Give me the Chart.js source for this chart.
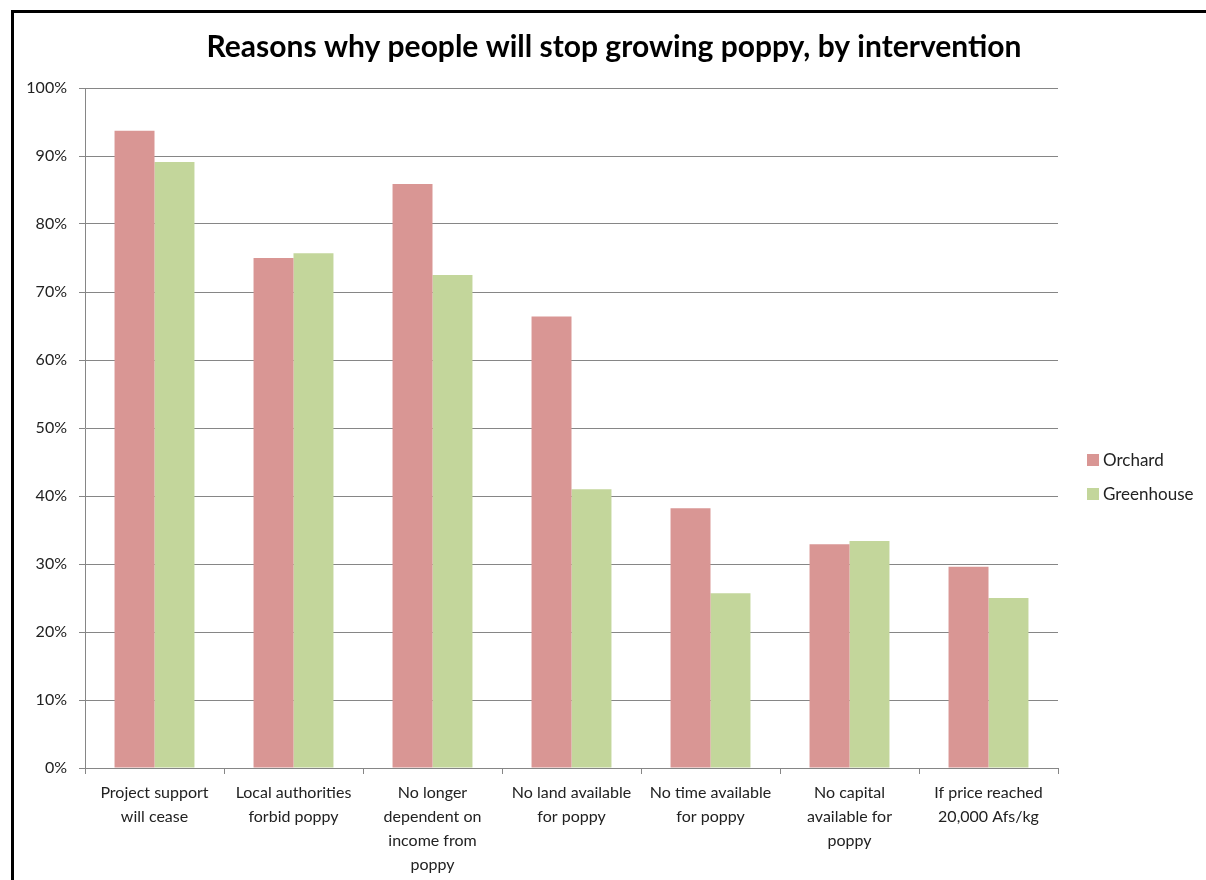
<!DOCTYPE html>
<html>
<head>
<meta charset="utf-8">
<script src="https://cdn.jsdelivr.net/npm/chart.js@4/dist/chart.umd.min.js"></script>
<style>
  html, body { margin: 0; padding: 0; background: #fff; }
  #wrap { position: relative; width: 1206px; height: 880px; overflow: hidden; }
  #frame {
    position: absolute; left: 11px; top: 10px; right: -5px; bottom: -5px;
    border-left: 3px solid #000; border-top: 3px solid #000;
    pointer-events: none;
  }
  canvas { position: absolute; left: 0; top: 0; }
</style>
</head>
<body>
<div id="wrap">
  <canvas id="reasonsChart" width="1206" height="880"></canvas>
  <div id="frame"></div>
</div>
<script>
const chartTitle = 'Reasons why people will stop growing poppy, by intervention';

const categories = [
  ['Project support', 'will cease'],
  ['Local authorities', 'forbid poppy'],
  ['No longer', 'dependent on', 'income from', 'poppy'],
  ['No land available', 'for poppy'],
  ['No time available', 'for poppy'],
  ['No capital', 'available for', 'poppy'],
  ['If price reached', '20,000 Afs/kg']
];

const orchard = [93.7, 75.0, 85.9, 66.4, 38.2, 32.9, 29.6];
const greenhouse = [89.1, 75.7, 72.5, 41.0, 25.7, 33.4, 25.0];

const yTicks = [0, 10, 20, 30, 40, 50, 60, 70, 80, 90, 100];

const FONT = 'Lato, "Open Sans", sans-serif';
const GRID = '#868686';

// title centred on the whole frame, legend stacked to the right of the plot
const frameText = {
  id: 'frameText',
  afterDraw(chart) {
    const { ctx } = chart;
    ctx.save();
    ctx.fillStyle = '#000';
    ctx.font = 'bold 30px ' + FONT;
    ctx.textAlign = 'center';
    ctx.textBaseline = 'middle';
    ctx.fillText(chartTitle, 614, 47);

    const x = 1087, y0 = 460, step = 34, box = 12;
    ctx.font = '17px ' + FONT;
    ctx.textAlign = 'left';
    chart.data.datasets.forEach((ds, i) => {
      const y = y0 + i * step;
      ctx.fillStyle = ds.backgroundColor;
      ctx.fillRect(x, y - box / 2, box, box);
      ctx.fillStyle = '#222';
      ctx.fillText(ds.label, x + 16, y + 1);
    });
    ctx.restore();
  }
};

const ctx = document.getElementById('reasonsChart').getContext('2d');
new Chart(ctx, {
  type: 'bar',
  data: {
    labels: categories,
    datasets: [
      { label: 'Orchard', data: orchard, backgroundColor: '#D99694' },
      { label: 'Greenhouse', data: greenhouse, backgroundColor: '#C3D69B' }
    ]
  },
  options: {
    responsive: false,
    animation: false,
    layout: { padding: { top: 88, left: 15, right: 148, bottom: 0 } },
    datasets: { bar: { barPercentage: 1, categoryPercentage: 0.575 } },
    scales: {
      x: {
        afterFit: scale => { scale.height = 112; },
        grid: { display: true, drawOnChartArea: false, drawTicks: true, tickLength: 6, color: GRID, offset: true },
        border: { display: true, color: GRID, width: 1 },
        ticks: {
          color: '#222', font: { family: FONT, size: 16, lineHeight: 1.5 },
          maxRotation: 0, autoSkip: false, padding: 7
        }
      },
      y: {
        min: 0, max: 100,
        afterBuildTicks: scale => { scale.ticks = yTicks.map(v => ({ value: v })); },
        afterFit: scale => { scale.width = 70; },
        grid: { color: GRID, lineWidth: 1, tickLength: 6 },
        border: { display: true, color: GRID, width: 1 },
        ticks: {
          color: '#222', font: { family: FONT, size: 16 }, padding: 12,
          callback: v => v + '%'
        }
      }
    },
    plugins: {
      legend: { display: false },
      tooltip: { enabled: false },
      title: { display: false }
    }
  },
  plugins: [frameText]
});
</script>
</body>
</html>
